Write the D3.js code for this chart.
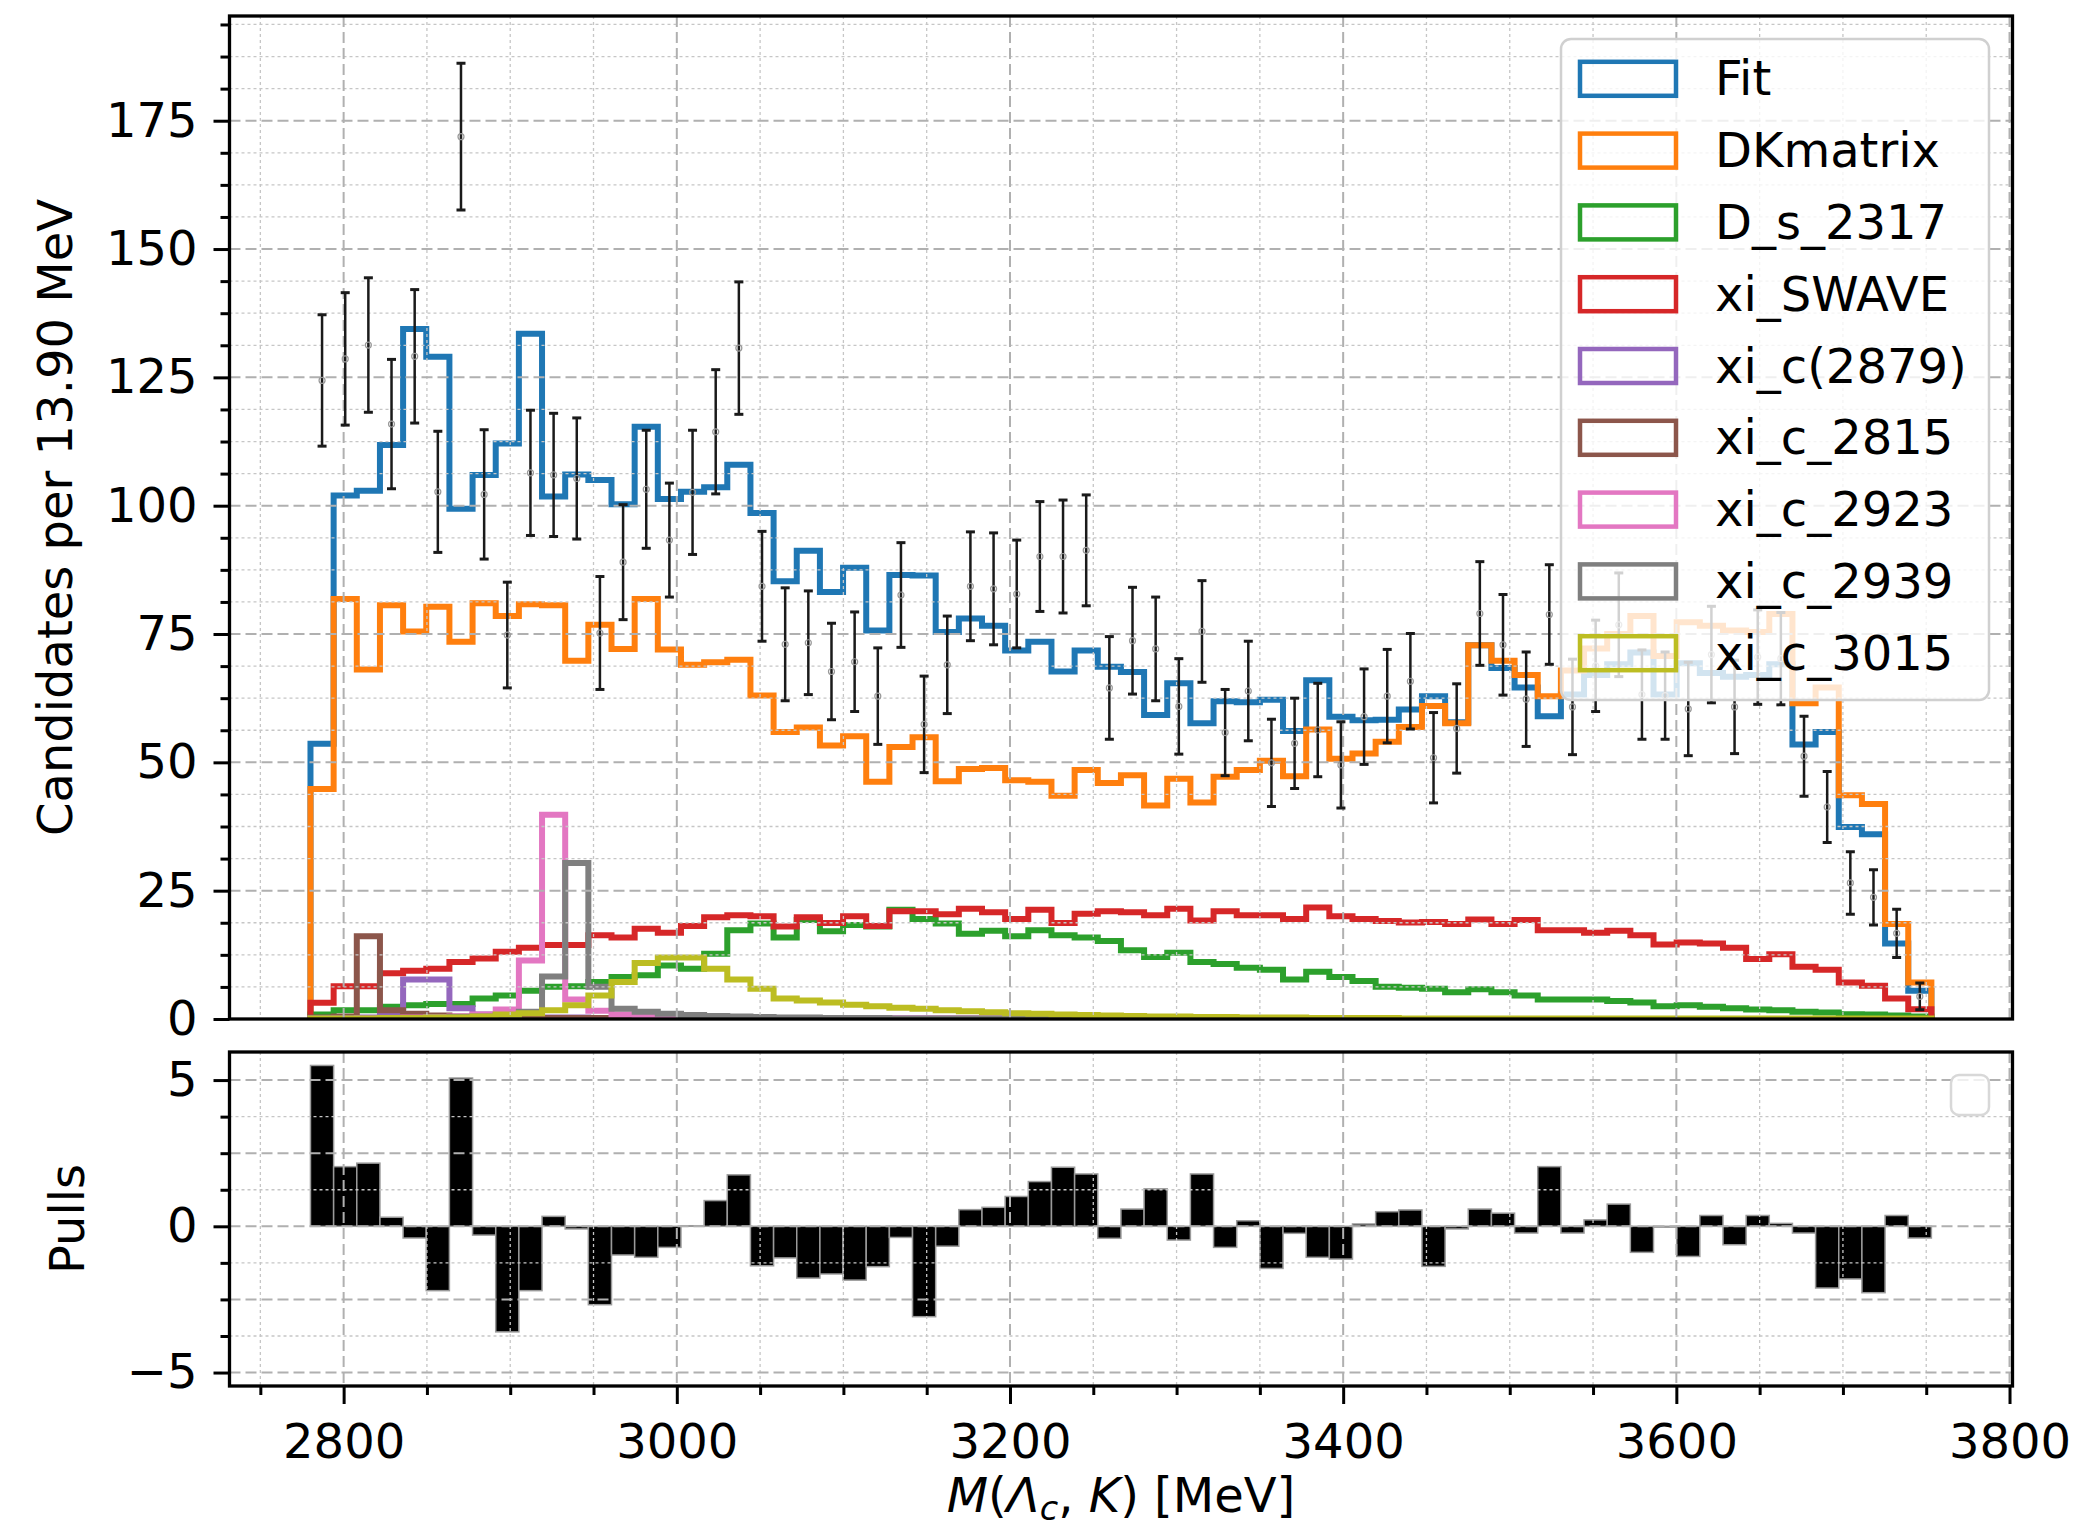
<!DOCTYPE html>
<html>
<head>
<meta charset="utf-8">
<script src="https://cdn.jsdelivr.net/npm/d3@7"></script>
<style>
  body { margin: 0; background: #fff; }
  svg { display: block; font-family: "DejaVu Sans", sans-serif; }
</style>
</head>
<body>
<svg id="chart" width="2080" height="1536"></svg>
<script>
// bin edges of M(Lc,K) in MeV, 70 bins of 13.90 MeV
const binEdges = [2780.1, 2794.0, 2807.9, 2821.8, 2835.7, 2849.6, 2863.5, 2877.4, 2891.3, 2905.2,
  2919.1, 2933.0, 2946.9, 2960.8, 2974.7, 2988.6, 3002.5, 3016.4, 3030.3, 3044.2,
  3058.1, 3072.0, 3085.9, 3099.8, 3113.7, 3127.6, 3141.5, 3155.4, 3169.3, 3183.2,
  3197.1, 3211.0, 3224.9, 3238.8, 3252.7, 3266.6, 3280.5, 3294.4, 3308.3, 3322.2,
  3336.1, 3350.0, 3363.9, 3377.8, 3391.7, 3405.6, 3419.5, 3433.4, 3447.3, 3461.2,
  3475.1, 3489.0, 3502.9, 3516.8, 3530.7, 3544.6, 3558.5, 3572.4, 3586.3, 3600.2,
  3614.1, 3628.0, 3641.9, 3655.8, 3669.7, 3683.6, 3697.5, 3711.4, 3725.3, 3739.2, 3753.1]

const fitValues = [53.6, 102.0, 102.9, 111.8, 134.4, 129.0, 99.4, 106.0, 112.1, 133.5,
  101.8, 106.1, 105.0, 100.3, 115.4, 101.3, 102.7, 103.6, 108.0, 98.6,
  85.3, 91.2, 83.2, 87.9, 75.7, 86.5, 86.4, 75.4, 78.0, 76.6,
  71.8, 73.5, 67.7, 71.8, 68.6, 67.6, 59.2, 65.4, 57.6, 61.9,
  61.7, 62.2, 56.1, 66.0, 58.9, 58.2, 58.3, 60.3, 62.9, 57.8,
  72.8, 68.4, 64.6, 59.0, 63.2, 67.0, 69.1, 71.4, 63.2, 69.3,
  67.4, 66.7, 67.0, 69.1, 53.5, 55.9, 37.4, 36.0, 14.7, 5.5]

const dkmatrixValues = [44.8, 81.8, 68.1, 80.6, 75.5, 80.3, 73.5, 81.0, 78.5, 80.8,
  80.6, 69.8, 76.8, 72.1, 81.8, 72.0, 69.0, 69.5, 70.0, 63.0,
  55.9, 56.8, 53.3, 55.1, 46.2, 53.0, 54.9, 46.3, 48.7, 48.9,
  46.5, 46.2, 43.5, 48.5, 46.0, 47.5, 41.6, 46.8, 42.2, 47.2,
  48.5, 50.3, 47.3, 56.4, 50.7, 51.7, 54.0, 56.9, 61.0, 57.6,
  72.8, 69.8, 67.0, 62.9, 67.9, 72.2, 75.0, 78.5, 70.7, 77.3,
  76.6, 75.7, 75.4, 78.9, 61.5, 64.6, 43.6, 41.9, 18.5, 7.1]

const ds2317Values = [0.9, 1.7, 1.7, 2.4, 2.7, 2.9, 2.9, 4.0, 4.6, 5.5,
  6.3, 6.4, 7.2, 8.2, 8.5, 10.4, 9.8, 12.7, 17.3, 18.6,
  15.9, 19.3, 17.1, 18.3, 18.0, 21.3, 19.5, 18.6, 16.6, 17.2,
  16.1, 17.3, 16.3, 15.9, 15.2, 13.4, 12.1, 12.9, 11.1, 10.7,
  10.0, 9.6, 7.7, 9.2, 8.2, 7.4, 6.3, 6.1, 5.9, 5.2,
  5.8, 5.2, 4.6, 3.8, 3.8, 3.8, 3.5, 3.2, 2.5, 2.7,
  2.4, 2.1, 1.85, 1.7, 1.4, 1.25, 0.93, 0.86, 0.7, 0.5]

const swaveValues = [3.15, 6.4, 6.4, 8.9, 9.4, 9.8, 11.1, 11.8, 13.1, 13.9,
  14.4, 14.4, 16.3, 15.9, 17.6, 16.8, 18.1, 19.8, 20.2, 20.0,
  18.0, 19.8, 18.7, 20.0, 18.1, 21.0, 21.0, 20.4, 21.5, 20.8,
  19.5, 21.3, 18.7, 20.5, 21.0, 20.8, 20.2, 21.5, 19.2, 21.0,
  20.2, 20.2, 19.5, 21.7, 20.0, 19.5, 19.1, 18.8, 18.9, 18.5,
  19.4, 18.5, 19.3, 17.3, 17.3, 16.8, 17.2, 16.3, 14.5, 14.9,
  14.7, 13.9, 11.7, 12.6, 10.2, 9.6, 7.1, 6.5, 4.0, 1.9]

const xi2879Values = [0.1, 0.2, 0.3, 0.6, 7.7, 7.7, 2.1, 0.9, 0.5, 0.4,
  0.3, 0.3, 0.2, 0.2, 0.2, 0.1, 0.1, 0.1, 0.1, 0.1,
  0.1, 0.1, 0.1, 0.1, 0.1, 0.1, 0.1, 0.1, 0.1, 0.1,
  0.0, 0.0, 0.0, 0.0, 0.0, 0.0, 0.0, 0.0, 0.0, 0.0,
  0.0, 0.0, 0.0, 0.0, 0.0, 0.0, 0.0, 0.0, 0.0, 0.0,
  0.0, 0.0, 0.0, 0.0, 0.0, 0.0, 0.0, 0.0, 0.0, 0.0,
  0.0, 0.0, 0.0, 0.0, 0.0, 0.0, 0.0, 0.0, 0.0, 0.0]

const xi2815Values = [0.3, 0.5, 16.1, 1.7, 1.0, 0.7, 0.5, 0.4, 0.3, 0.3,
  0.2, 0.2, 0.2, 0.1, 0.1, 0.1, 0.1, 0.1, 0.1, 0.1,
  0.1, 0.1, 0.0, 0.0, 0.0, 0.0, 0.0, 0.0, 0.0, 0.0,
  0.0, 0.0, 0.0, 0.0, 0.0, 0.0, 0.0, 0.0, 0.0, 0.0,
  0.0, 0.0, 0.0, 0.0, 0.0, 0.0, 0.0, 0.0, 0.0, 0.0,
  0.0, 0.0, 0.0, 0.0, 0.0, 0.0, 0.0, 0.0, 0.0, 0.0,
  0.0, 0.0, 0.0, 0.0, 0.0, 0.0, 0.0, 0.0, 0.0, 0.0]

const xi2923Values = [0.1, 0.1, 0.2, 0.2, 0.3, 0.4, 0.5, 0.9, 1.85, 11.4,
  39.8, 3.8, 1.6, 0.9, 0.6, 0.5, 0.4, 0.3, 0.3, 0.2,
  0.2, 0.2, 0.1, 0.1, 0.1, 0.1, 0.1, 0.1, 0.1, 0.1,
  0.0, 0.0, 0.0, 0.0, 0.0, 0.0, 0.0, 0.0, 0.0, 0.0,
  0.0, 0.0, 0.0, 0.0, 0.0, 0.0, 0.0, 0.0, 0.0, 0.0,
  0.0, 0.0, 0.0, 0.0, 0.0, 0.0, 0.0, 0.0, 0.0, 0.0,
  0.0, 0.0, 0.0, 0.0, 0.0, 0.0, 0.0, 0.0, 0.0, 0.0]

const xi2939Values = [0.1, 0.1, 0.1, 0.2, 0.2, 0.3, 0.4, 0.5, 0.8, 1.4,
  8.3, 30.4, 6.3, 2.0, 1.4, 1.0, 0.8, 0.6, 0.5, 0.4,
  0.3, 0.3, 0.2, 0.2, 0.2, 0.1, 0.1, 0.1, 0.1, 0.1,
  0.1, 0.1, 0.0, 0.0, 0.0, 0.0, 0.0, 0.0, 0.0, 0.0,
  0.0, 0.0, 0.0, 0.0, 0.0, 0.0, 0.0, 0.0, 0.0, 0.0,
  0.0, 0.0, 0.0, 0.0, 0.0, 0.0, 0.0, 0.0, 0.0, 0.0,
  0.0, 0.0, 0.0, 0.0, 0.0, 0.0, 0.0, 0.0, 0.0, 0.0]

const xi3015Values = [0.1, 0.1, 0.1, 0.2, 0.2, 0.3, 0.3, 0.5, 0.9, 1.1,
  1.7, 2.7, 4.6, 7.2, 10.9, 12.0, 12.0, 9.8, 7.7, 5.9,
  4.0, 3.6, 3.2, 2.8, 2.5, 2.2, 2.0, 1.7, 1.5, 1.3,
  1.1, 1.0, 0.9, 0.8, 0.7, 0.6, 0.5, 0.5, 0.4, 0.4,
  0.3, 0.3, 0.3, 0.2, 0.2, 0.2, 0.2, 0.1, 0.1, 0.1,
  0.1, 0.1, 0.1, 0.1, 0.1, 0.1, 0.1, 0.1, 0.1, 0.1,
  0.1, 0.1, 0.1, 0.1, 0.1, 0.1, 0.1, 0.1, 0.1, 0.1]

// data points with errors
const dataValues = [124.4, 128.6, 131.3, 115.9, 129.1, 102.7, 171.9, 102.2, 74.8, 106.4,
  106.0, 105.3, 75.2, 89.0, 103.2, 93.3, 102.6, 114.4, 130.7, 84.3,
  73.0, 73.3, 67.7, 69.6, 62.9, 82.6, 57.4, 69.0, 84.3, 83.8,
  82.8, 90.1, 90.1, 91.3, 64.5, 73.7, 72.1, 60.9, 75.5, 55.8,
  63.9, 49.9, 53.7, 56.3, 49.5, 58.9, 62.9, 65.8, 50.9, 56.6,
  79.0, 72.9, 62.3, 78.8, 60.8, 68.8, 76.8, 63.2, 63.0, 60.4,
  71.0, 60.8, 70.5, 70.2, 51.2, 41.3, 26.5, 23.7, 16.7, 4.4]

const dataErrors = [12.8, 12.9, 13.1, 12.6, 13.0, 11.8, 14.3, 12.6, 10.3, 12.2,
  12.0, 11.8, 11.0, 11.2, 11.5, 11.1, 12.1, 12.1, 12.9, 10.7,
  11.0, 10.1, 9.4, 9.7, 9.4, 10.2, 9.4, 9.5, 10.6, 10.9,
  10.5, 10.7, 11.0, 10.8, 10.0, 10.4, 10.1, 9.3, 9.9, 8.4,
  9.7, 8.5, 8.8, 9.1, 8.4, 9.3, 9.1, 9.3, 8.8, 8.7,
  10.1, 9.8, 9.2, 9.7, 9.3, 8.9, 10.1, 8.7, 8.5, 9.1,
  9.4, 9.1, 9.2, 9.0, 7.8, 6.9, 6.1, 5.4, 4.7, 2.6]

const pullValues = [5.50, 2.04, 2.16, 0.31, -0.40, -2.20, 5.07, -0.30, -3.61, -2.20,
  0.34, -0.09, -2.68, -0.98, -1.06, -0.72, 0.02, 0.88, 1.76, -1.35,
  -1.08, -1.77, -1.63, -1.84, -1.38, -0.38, -3.09, -0.68, 0.57, 0.65,
  1.02, 1.53, 2.02, 1.79, -0.41, 0.59, 1.28, -0.47, 1.79, -0.72,
  0.19, -1.44, -0.24, -1.06, -1.12, 0.08, 0.50, 0.56, -1.37, -0.09,
  0.59, 0.45, -0.23, 2.04, -0.23, 0.22, 0.76, -0.89, -0.03, -1.03,
  0.37, -0.63, 0.37, 0.10, -0.23, -2.11, -1.80, -2.27, 0.37, -0.40]

const seriesNames = ["Fit", "DKmatrix", "D_s_2317", "xi_SWAVE", "xi_c(2879)", "xi_c_2815", "xi_c_2923", "xi_c_2939", "xi_c_3015"]
const seriesColors = ["#1f77b4", "#ff7f0e", "#2ca02c", "#d62728", "#9467bd", "#8c564b", "#e377c2", "#7f7f7f", "#bcbd22"]
const seriesValues = [fitValues, dkmatrixValues, ds2317Values, swaveValues, xi2879Values, xi2815Values, xi2923Values, xi2939Values, xi3015Values]

const xTicks = [2800, 3000, 3200, 3400, 3600, 3800]
const yTicks = [0, 25, 50, 75, 100, 125, 150, 175]
const pullTicks = [-5, 0, 5]

// layout
const FONT = 48
const L = 229.5, R = 2012.5
const mainTop = 16, mainBottom = 1019
const pullTop = 1052, pullBottom = 1386

const svg = d3.select("#chart")

const x = d3.scaleLinear().domain([2731.49, 3801.79]).range([L, R])
const y = d3.scaleLinear().domain([0, 195.4]).range([mainBottom, mainTop])
const yp = d3.scaleLinear().domain([-5.46, 5.96]).range([pullBottom, pullTop])

const xMinor = d3.range(2750, 3801, 50).filter(v => v % 200 !== 0)
const yMinor = d3.range(6.25, 195, 6.25).filter(v => v % 25 !== 0)
const pullMajorGrid = [-5, -2.5, 0, 2.5, 5]
const pullMinorGrid = [-3.75, -1.25, 1.25, 3.75]

const defs = svg.append("defs")
defs.append("clipPath").attr("id", "clipMain")
  .append("rect").attr("x", L).attr("y", mainTop).attr("width", R - L).attr("height", mainBottom - mainTop)
defs.append("clipPath").attr("id", "clipPull")
  .append("rect").attr("x", L).attr("y", pullTop).attr("width", R - L).attr("height", pullBottom - pullTop)

function drawGrid(g, yScale, yMajor, yMin, top, bottom) {
  // minor first, then major
  g.selectAll(".vminor").data(xMinor).enter().append("line")
    .attr("x1", d => x(d)).attr("x2", d => x(d)).attr("y1", top).attr("y2", bottom)
    .attr("stroke", "#c6c6c6").attr("stroke-width", 1.3).attr("stroke-dasharray", "3,3")
  g.selectAll(".hminor").data(yMin).enter().append("line")
    .attr("x1", L).attr("x2", R).attr("y1", d => yScale(d)).attr("y2", d => yScale(d))
    .attr("stroke", "#c6c6c6").attr("stroke-width", 1.3).attr("stroke-dasharray", "3,3")
  g.selectAll(".vmajor").data(xTicks).enter().append("line")
    .attr("x1", d => x(d)).attr("x2", d => x(d)).attr("y1", top).attr("y2", bottom)
    .attr("stroke", "#b0b0b0").attr("stroke-width", 2).attr("stroke-dasharray", "11,5")
  g.selectAll(".hmajor").data(yMajor).enter().append("line")
    .attr("x1", L).attr("x2", R).attr("y1", d => yScale(d)).attr("y2", d => yScale(d))
    .attr("stroke", "#b0b0b0").attr("stroke-width", 2).attr("stroke-dasharray", "11,5")
}

/*
  MAIN PANEL
 */
const main = svg.append("g")
const histG = main.append("g").attr("clip-path", "url(#clipMain)")

function stepPoints(values) {
  let pts = [[binEdges[0], 0]]
  values.forEach((v, i) => {
    pts.push([binEdges[i], v])
    pts.push([binEdges[i + 1], v])
  })
  pts.push([binEdges[binEdges.length - 1], 0])
  return pts
}

const stepLine = d3.line().x(d => x(d[0])).y(d => y(d[1]))

seriesValues.forEach((vals, k) => {
  histG.append("path")
    .attr("d", stepLine(stepPoints(vals)))
    .attr("fill", "none")
    .attr("stroke", seriesColors[k])
    .attr("stroke-width", 6)
    .attr("stroke-linejoin", "miter")
})

drawGrid(main.append("g").attr("clip-path", "url(#clipMain)"), y, yTicks.slice(1), yMinor, mainTop, mainBottom)

// error bars
const centers = dataValues.map((v, i) => (binEdges[i] + binEdges[i + 1]) / 2)
const errG = main.append("g").attr("clip-path", "url(#clipMain)")
const eb = errG.selectAll("g").data(dataValues).enter().append("g")
eb.append("line")
  .attr("x1", (d, i) => x(centers[i])).attr("x2", (d, i) => x(centers[i]))
  .attr("y1", (d, i) => y(d - dataErrors[i])).attr("y2", (d, i) => y(d + dataErrors[i]))
  .attr("stroke", "#1a1a1a").attr("stroke-width", 2.5)
eb.append("line")
  .attr("x1", (d, i) => x(centers[i]) - 4.5).attr("x2", (d, i) => x(centers[i]) + 4.5)
  .attr("y1", (d, i) => y(d + dataErrors[i])).attr("y2", (d, i) => y(d + dataErrors[i]))
  .attr("stroke", "#1a1a1a").attr("stroke-width", 3)
eb.append("line")
  .attr("x1", (d, i) => x(centers[i]) - 4.5).attr("x2", (d, i) => x(centers[i]) + 4.5)
  .attr("y1", (d, i) => y(d - dataErrors[i])).attr("y2", (d, i) => y(d - dataErrors[i]))
  .attr("stroke", "#1a1a1a").attr("stroke-width", 3)
eb.append("circle")
  .attr("cx", (d, i) => x(centers[i])).attr("cy", d => y(d)).attr("r", 3)
  .attr("fill", "none").attr("stroke", "#999").attr("stroke-width", 1.2)

// y axis
const yAxisG = main.append("g").attr("transform", "translate(" + L + ",0)")
yAxisG.call(d3.axisLeft(y).tickValues(yMinor).tickSize(9).tickFormat(""))
yAxisG.append("g").call(d3.axisLeft(y).tickValues(yTicks).tickSize(16).tickPadding(16))
yAxisG.selectAll(".domain").remove()
yAxisG.selectAll(".tick line").attr("stroke", "#000").attr("stroke-width", 3)
yAxisG.selectAll(".tick text").attr("font-size", FONT).attr("fill", "#000").attr("font-family", "DejaVu Sans")

main.append("rect").attr("x", L).attr("y", mainTop).attr("width", R - L).attr("height", mainBottom - mainTop)
  .attr("fill", "none").attr("stroke", "#000").attr("stroke-width", 3.3)

svg.append("text")
  .attr("transform", "translate(72," + ((mainTop + mainBottom) / 2) + ") rotate(-90)")
  .attr("text-anchor", "middle").attr("font-size", FONT)
  .text("Candidates per 13.90 MeV")

// legend
const legend = main.append("g")
legend.append("rect")
  .attr("x", 1561).attr("y", 39).attr("width", 428).attr("height", 661).attr("rx", 10)
  .attr("fill", "#fff").attr("fill-opacity", 0.8)
  .attr("stroke", "#d0d0d0").attr("stroke-width", 2.5)
const items = legend.selectAll(".item").data(seriesNames).enter().append("g")
  .attr("transform", (d, i) => "translate(0," + (78.8 + i * 71.8) + ")")
items.append("rect")
  .attr("x", 1580).attr("y", -17).attr("width", 96).attr("height", 34)
  .attr("fill", "none").attr("stroke", (d, i) => seriesColors[i]).attr("stroke-width", 4.5)
items.append("text")
  .attr("x", 1715).attr("y", 16.5)
  .attr("font-size", FONT)
  .text(d => d)

/*
  PULL PANEL
 */
const pull = svg.append("g")
pull.append("g").attr("clip-path", "url(#clipPull)")
  .selectAll("rect").data(pullValues).enter().append("rect")
  .attr("x", (d, i) => x(binEdges[i]))
  .attr("width", (d, i) => x(binEdges[i + 1]) - x(binEdges[i]))
  .attr("y", d => yp(Math.max(0, d)))
  .attr("height", d => Math.abs(yp(d) - yp(0)))
  .attr("fill", "#000").attr("stroke", "#9a9a9a").attr("stroke-width", 1.5)

drawGrid(pull.append("g").attr("clip-path", "url(#clipPull)"), yp, pullMajorGrid, pullMinorGrid, pullTop, pullBottom)

const ypAxisG = pull.append("g").attr("transform", "translate(" + L + ",0)")
ypAxisG.call(d3.axisLeft(yp).tickValues(pullMinorGrid.concat([-2.5, 2.5])).tickSize(9).tickFormat(""))
ypAxisG.append("g").call(d3.axisLeft(yp).tickValues(pullTicks).tickSize(16).tickPadding(16))
ypAxisG.selectAll(".domain").remove()
ypAxisG.selectAll(".tick line").attr("stroke", "#000").attr("stroke-width", 3)
ypAxisG.selectAll(".tick text").attr("font-size", FONT).attr("fill", "#000").attr("font-family", "DejaVu Sans")

const xAxisG = pull.append("g").attr("transform", "translate(0," + pullBottom + ")")
xAxisG.call(d3.axisBottom(x).tickValues(xMinor).tickSize(9).tickFormat(""))
xAxisG.append("g").call(d3.axisBottom(x).tickValues(xTicks).tickSize(18).tickPadding(20).tickFormat(d3.format("d")))
xAxisG.selectAll(".domain").remove()
xAxisG.selectAll(".tick line").attr("stroke", "#000").attr("stroke-width", 3)
xAxisG.selectAll(".tick text").attr("font-size", FONT).attr("fill", "#000").attr("font-family", "DejaVu Sans")

pull.append("rect").attr("x", L).attr("y", pullTop).attr("width", R - L).attr("height", pullBottom - pullTop)
  .attr("fill", "none").attr("stroke", "#000").attr("stroke-width", 3.3)

// empty legend box of the pull panel
pull.append("rect")
  .attr("x", 1951).attr("y", 1075).attr("width", 38).attr("height", 40).attr("rx", 8)
  .attr("fill", "#fff").attr("fill-opacity", 0.8)
  .attr("stroke", "#d8d8d8").attr("stroke-width", 2.5)

svg.append("text")
  .attr("transform", "translate(84," + ((pullTop + pullBottom) / 2) + ") rotate(-90)")
  .attr("text-anchor", "middle").attr("font-size", FONT)
  .text("Pulls")

// x label: M(Λc, K) [MeV]
const xl = svg.append("text")
  .attr("x", (L + R) / 2).attr("y", 1512)
  .attr("text-anchor", "middle").attr("font-size", FONT)
xl.append("tspan").attr("font-style", "italic").text("M")
xl.append("tspan").text("(")
xl.append("tspan").attr("font-style", "italic").text("Λ")
xl.append("tspan").attr("font-style", "italic").attr("font-size", FONT * 0.7).attr("dy", 8).text("c")
xl.append("tspan").attr("dy", -8).text(", ")
xl.append("tspan").attr("font-style", "italic").text("K")
xl.append("tspan").text(") [MeV]")
</script>
</body>
</html>
